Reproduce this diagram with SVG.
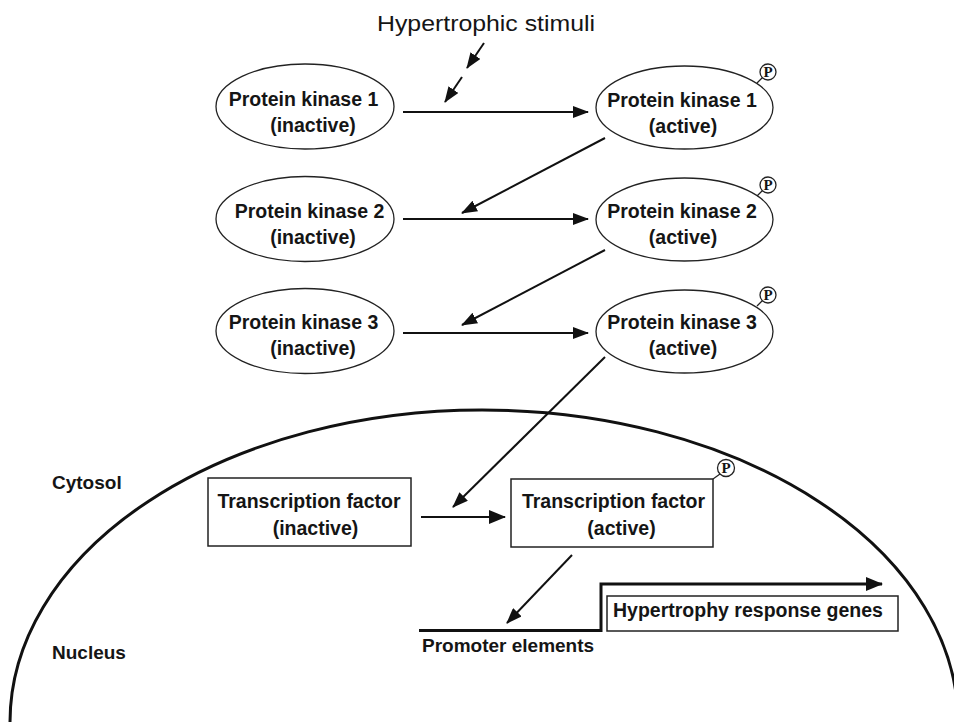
<svg xmlns="http://www.w3.org/2000/svg" width="954" height="723" viewBox="0 0 954 723">
<style>
text{font-family:"Liberation Sans",Arial,sans-serif;fill:#151515}
.b{font-weight:bold;font-size:19.5px}
.s{font-weight:bold;font-size:19px}
.node{fill:#fff;stroke:#222;stroke-width:1.3}
.box{fill:#fff;stroke:#222;stroke-width:1.5}
.pc{fill:#fff;stroke:#222;stroke-width:1.3}
.pt{font-family:"Liberation Serif","Times New Roman",serif;font-weight:bold;font-size:15px;text-anchor:middle}
.ln{fill:none;stroke:#111;stroke-width:2}
.m{text-anchor:middle}
</style>
<defs>
<marker id="ah" markerUnits="userSpaceOnUse" markerWidth="16" markerHeight="12" refX="15" refY="6" orient="auto">
<path d="M0,0 L16,6 L0,12 z" fill="#111"/>
</marker>
<marker id="ahb" markerUnits="userSpaceOnUse" markerWidth="17" markerHeight="14" refX="16" refY="7" orient="auto">
<path d="M0,0 L17,7 L0,14 z" fill="#111"/>
</marker>
</defs>

<rect width="954" height="723" fill="#fff"/>

<g id="nucleus-membrane">
<path d="M 10,722 A 472 312 0 0 1 482 410 A 476 312 0 0 1 958 722" fill="none" stroke="#111" stroke-width="3"/>
</g>

<g id="labels">
<text x="486" y="31" font-size="22" text-anchor="middle" textLength="218" lengthAdjust="spacingAndGlyphs">Hypertrophic stimuli</text>
<text class="s" x="52" y="489">Cytosol</text>
<text class="s" x="52" y="659">Nucleus</text>
<text class="s" x="422" y="652">Promoter elements</text>
</g>

<g id="pk1-inactive">
<ellipse class="node" cx="305" cy="106.5" rx="89" ry="42.5"/>
<text class="b m" x="303.5" y="106">Protein kinase 1</text>
<text class="b m" x="313" y="132">(inactive)</text>
</g>
<g id="pk2-inactive">
<ellipse class="node" cx="305" cy="219" rx="89" ry="42.5"/>
<text class="b m" x="309.5" y="218">Protein kinase 2</text>
<text class="b m" x="313" y="244">(inactive)</text>
</g>
<g id="pk3-inactive">
<ellipse class="node" cx="305" cy="331" rx="89" ry="42.5"/>
<text class="b m" x="303.5" y="329">Protein kinase 3</text>
<text class="b m" x="313" y="355">(inactive)</text>
</g>

<g id="pk1-active">
<ellipse class="node" cx="684.5" cy="107.5" rx="88.5" ry="41.5"/>
<text class="b m" x="682" y="107">Protein kinase 1</text>
<text class="b m" x="683" y="133">(active)</text>
<line x1="757" y1="83" x2="763" y2="77" stroke="#222" stroke-width="1.2"/>
<circle class="pc" cx="768" cy="72" r="8"/>
<text class="pt" x="768" y="77">P</text>
</g>
<g id="pk2-active">
<ellipse class="node" cx="684.5" cy="219.5" rx="88.5" ry="41.5"/>
<text class="b m" x="682" y="218">Protein kinase 2</text>
<text class="b m" x="683" y="244">(active)</text>
<line x1="757" y1="196" x2="763" y2="190" stroke="#222" stroke-width="1.2"/>
<circle class="pc" cx="768" cy="185" r="8"/>
<text class="pt" x="768" y="190">P</text>
</g>
<g id="pk3-active">
<ellipse class="node" cx="684.5" cy="331.5" rx="88.5" ry="41.5"/>
<text class="b m" x="682" y="329">Protein kinase 3</text>
<text class="b m" x="683" y="355">(active)</text>
<line x1="757" y1="306" x2="763" y2="300" stroke="#222" stroke-width="1.2"/>
<circle class="pc" cx="768" cy="295" r="8"/>
<text class="pt" x="768" y="300">P</text>
</g>

<g id="tf-inactive">
<rect class="box" x="208" y="478" width="203" height="68"/>
<text class="b m" x="309" y="508">Transcription factor</text>
<text class="b m" x="315.5" y="535">(inactive)</text>
</g>
<g id="tf-active">
<rect class="box" x="511" y="479" width="202" height="68"/>
<text class="b m" x="613.5" y="508">Transcription factor</text>
<text class="b m" x="621.5" y="535">(active)</text>
<line x1="713" y1="479" x2="720" y2="474" stroke="#222" stroke-width="1.2"/>
<circle class="pc" cx="726" cy="468" r="8.5"/>
<text class="pt" x="726" y="473">P</text>
</g>

<g id="genes">
<rect class="box" x="607" y="596" width="291" height="35"/>
<text class="b" x="613" y="617">Hypertrophy response genes</text>
</g>

<g id="connectors">
<line class="ln" x1="484" y1="43" x2="467" y2="68" marker-end="url(#ah)"/>
<line class="ln" x1="462" y1="77" x2="445" y2="102" marker-end="url(#ah)"/>
<line class="ln" x1="403" y1="112" x2="588" y2="112" stroke-width="2.5" marker-end="url(#ah)"/>
<line class="ln" x1="403" y1="219" x2="588" y2="219" stroke-width="2.5" marker-end="url(#ah)"/>
<line class="ln" x1="403" y1="333" x2="588" y2="333" stroke-width="2.5" marker-end="url(#ah)"/>
<line class="ln" x1="605" y1="138" x2="462" y2="213" marker-end="url(#ah)"/>
<line class="ln" x1="605" y1="250" x2="462" y2="325" marker-end="url(#ah)"/>
<line class="ln" x1="605" y1="357" x2="453" y2="507" stroke-width="1.6" marker-end="url(#ah)"/>
<line class="ln" x1="421" y1="517" x2="505" y2="517" stroke-width="3" marker-end="url(#ahb)"/>
<line class="ln" x1="572" y1="555" x2="507" y2="623" stroke-width="1.8" marker-end="url(#ah)"/>
<path d="M419,630.5 H601 V584 H882" fill="none" stroke="#111" stroke-width="3" marker-end="url(#ahb)"/>
</g>
</svg>
